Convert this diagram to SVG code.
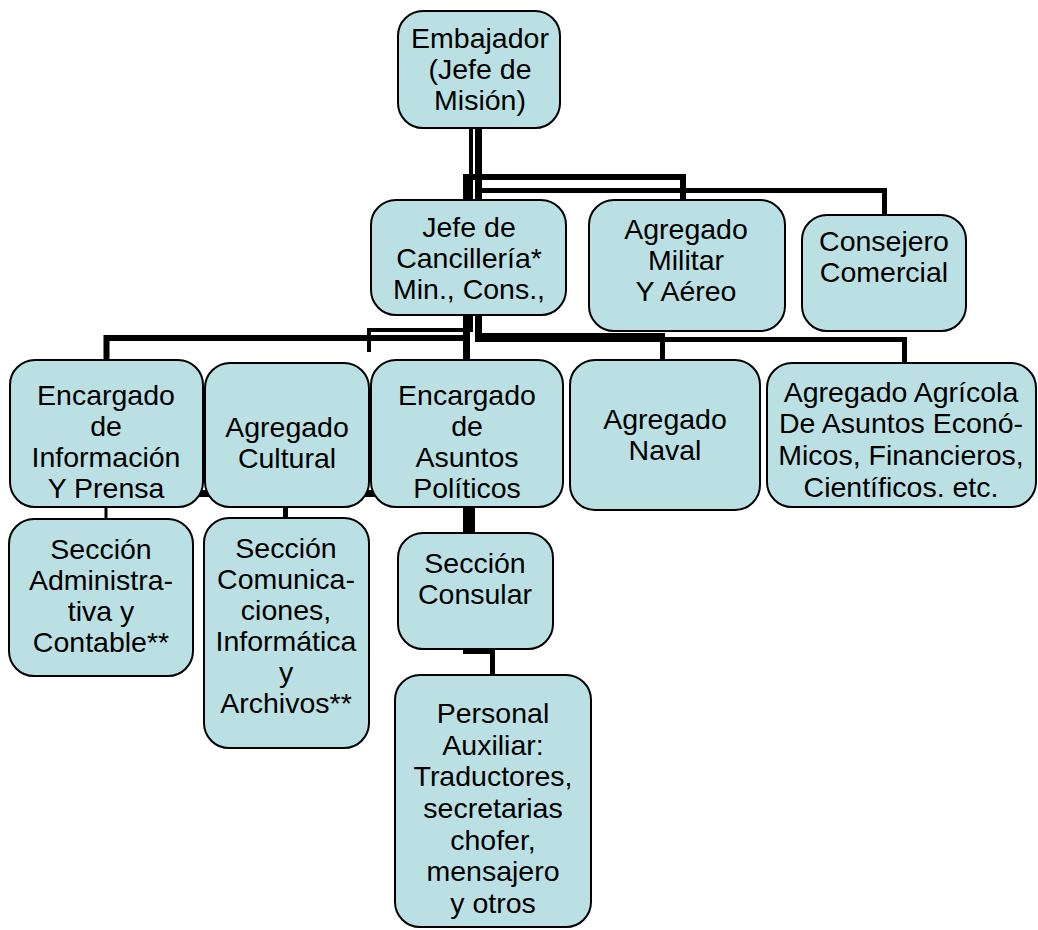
<svg xmlns="http://www.w3.org/2000/svg" width="1038" height="930" viewBox="0 0 1038 930">
<style>
.box{fill:#BBE0E3;stroke:#000;stroke-width:2}
.t{font-family:"Liberation Sans",Arial,sans-serif;font-size:28.5px;fill:#000;text-anchor:middle}
.c{stroke:#000;fill:none;stroke-linecap:butt;stroke-linejoin:miter}
</style>
<rect width="1038" height="930" fill="#fff"/>
<g id="connectors">
<line class="c" x1="471" y1="128" x2="471" y2="200" stroke-width="4"/>
<line class="c" x1="478.5" y1="128" x2="478.5" y2="200" stroke-width="7"/>
<line class="c" x1="466.5" y1="174" x2="466.5" y2="200" stroke-width="7"/>
<polyline class="c" points="463,177 683,177 683,200" stroke-width="6"/>
<polyline class="c" points="475,190.5 884.5,190.5 884.5,215" stroke-width="5"/>
<line class="c" x1="466.5" y1="315" x2="466.5" y2="360" stroke-width="7"/>
<line class="c" x1="471.5" y1="315" x2="471.5" y2="332" stroke-width="3"/>
<polyline class="c" points="369,352 369,330 470,330" stroke-width="4"/>
<polyline class="c" points="106.5,360 106.5,338 467,338" stroke-width="6"/>
<line class="c" x1="478.5" y1="315" x2="478.5" y2="342" stroke-width="7"/>
<line class="c" x1="475" y1="337.5" x2="665" y2="337.5" stroke-width="9"/>
<line class="c" x1="665" y1="339.5" x2="907" y2="339.5" stroke-width="5"/>
<line class="c" x1="662.5" y1="333" x2="662.5" y2="360" stroke-width="5"/>
<line class="c" x1="904.5" y1="337" x2="904.5" y2="363" stroke-width="5"/>
<line class="c" x1="150" y1="493.5" x2="420" y2="493.5" stroke-width="7"/>
<line class="c" x1="106" y1="507" x2="106" y2="519" stroke-width="3"/>
<line class="c" x1="285.5" y1="507" x2="285.5" y2="518" stroke-width="5"/>
<line class="c" x1="469" y1="507" x2="469" y2="651" stroke-width="12"/>
<polyline class="c" points="463,651.5 492.5,651.5 492.5,675" stroke-width="5"/>
</g>
<g id="n-embajador">
<rect class="box" x="398" y="11" width="162" height="117" rx="25"/>
<text class="t" x="480" y="48">Embajador</text>
<text class="t" x="480" y="79">(Jefe de</text>
<text class="t" x="480" y="110">Misión)</text>
</g>
<g id="n-jefe">
<rect class="box" x="371" y="200" width="195" height="115" rx="25"/>
<text class="t" x="469" y="237">Jefe de</text>
<text class="t" x="469" y="268">Cancillería*</text>
<text class="t" x="469" y="299">Min., Cons.,</text>
</g>
<g id="n-militar">
<rect class="box" x="589" y="200" width="196" height="131" rx="25"/>
<text class="t" x="686" y="239">Agregado</text>
<text class="t" x="686" y="270">Militar</text>
<text class="t" x="686" y="301">Y Aéreo</text>
</g>
<g id="n-consejero">
<rect class="box" x="802" y="215" width="164" height="116" rx="25"/>
<text class="t" x="884" y="251">Consejero</text>
<text class="t" x="884" y="282">Comercial</text>
</g>
<g id="n-informacion">
<rect class="box" x="10" y="360" width="193" height="147" rx="25"/>
<text class="t" x="106" y="405">Encargado</text>
<text class="t" x="106" y="436">de</text>
<text class="t" x="106" y="467">Información</text>
<text class="t" x="106" y="498">Y Prensa</text>
</g>
<g id="n-cultural">
<rect class="box" x="205" y="363" width="164" height="144" rx="25"/>
<text class="t" x="287" y="437">Agregado</text>
<text class="t" x="287" y="468">Cultural</text>
</g>
<g id="n-politicos">
<rect class="box" x="371" y="360" width="192" height="147" rx="25"/>
<text class="t" x="467" y="405">Encargado</text>
<text class="t" x="467" y="436">de</text>
<text class="t" x="467" y="467">Asuntos</text>
<text class="t" x="467" y="498">Políticos</text>
</g>
<g id="n-naval">
<rect class="box" x="570" y="360" width="190" height="150" rx="25"/>
<text class="t" x="665" y="429">Agregado</text>
<text class="t" x="665" y="460">Naval</text>
</g>
<g id="n-agricola">
<rect class="box" x="767" y="363" width="269" height="144" rx="25"/>
<text class="t" x="901" y="402">Agregado Agrícola</text>
<text class="t" x="901" y="433">De Asuntos Econó-</text>
<text class="t" x="901" y="465">Micos, Financieros,</text>
<text class="t" x="901" y="497">Científicos. etc.</text>
</g>
<g id="n-administrativa">
<rect class="box" x="9" y="519" width="184" height="157" rx="25"/>
<text class="t" x="101" y="559">Sección</text>
<text class="t" x="101" y="590">Administra-</text>
<text class="t" x="101" y="621">tiva y</text>
<text class="t" x="101" y="652">Contable**</text>
</g>
<g id="n-comunicaciones">
<rect class="box" x="204" y="518" width="165" height="230" rx="25"/>
<text class="t" x="286" y="558">Sección</text>
<text class="t" x="286" y="589">Comunica-</text>
<text class="t" x="286" y="620">ciones,</text>
<text class="t" x="286" y="651">Informática</text>
<text class="t" x="286" y="682">y</text>
<text class="t" x="286" y="713">Archivos**</text>
</g>
<g id="n-consular">
<rect class="box" x="398" y="533" width="155" height="116" rx="25"/>
<text class="t" x="475" y="573">Sección</text>
<text class="t" x="475" y="604">Consular</text>
</g>
<g id="n-personal">
<rect class="box" x="395" y="675" width="196" height="252" rx="25"/>
<text class="t" x="493" y="723">Personal</text>
<text class="t" x="493" y="755">Auxiliar:</text>
<text class="t" x="493" y="786">Traductores,</text>
<text class="t" x="493" y="818">secretarias</text>
<text class="t" x="493" y="850">chofer,</text>
<text class="t" x="493" y="881">mensajero</text>
<text class="t" x="493" y="913">y otros</text>
</g>
</svg>
